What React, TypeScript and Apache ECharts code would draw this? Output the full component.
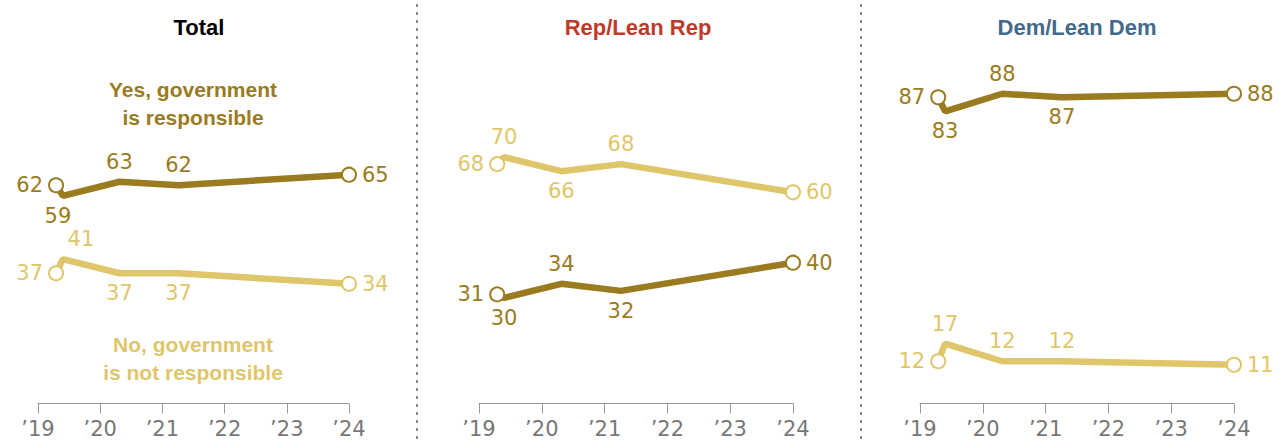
import React, { useEffect, useRef } from 'react';
import * as echarts from 'echarts';

const surveyDates = [2019.29, 2019.4, 2020.31, 2021.26, 2024.0];
const yearMin = 2019;
const yearMax = 2024;
const panelTitles = ['Total', 'Rep/Lean Rep', 'Dem/Lean Dem'];
const yesLabel = 'Yes, government\nis responsible';
const noLabel = 'No, government\nis not responsible';

const totalYes = [62, 59, 63, 62, 65];
const totalNo = [37, 41, 37, 37, 34];
const repYes = [31, 30, 34, 32, 40];
const repNo = [68, 70, 66, 68, 60];
const demYes = [87, 83, 88, 87, 88];
const demNo = [12, 17, 12, 12, 11];

const DARK = '#9A7B20';
const LIGHT = '#DFC66A';
const TITLE_COLORS = ['#000000', '#BF3A2B', '#436A8A'];
const NUM_FONT = "'DejaVu Sans', sans-serif";
const BOLD_FONT = "'Liberation Sans', Arial, sans-serif";

// label placement per point [position, offsetX]
type LP = [string, number];
const placements: LP[][] = [
  [['left', 0], ['bottom', -5], ['top', 0], ['top', 0], ['right', 0]], // total yes
  [['left', 0], ['top', 18], ['bottom', 0], ['bottom', 0], ['right', 0]], // total no
  [['left', 0], ['bottom', 0], ['top', 0], ['bottom', 0], ['right', 0]], // rep yes
  [['left', 0], ['top', 0], ['bottom', 0], ['top', 0], ['right', 0]], // rep no
  [['left', 0], ['bottom', 0], ['top', 0], ['bottom', 0], ['right', 0]], // dem yes
  [['left', 0], ['top', 0], ['top', 0], ['top', 0], ['right', 0]], // dem no
];

const panelLefts = [38, 479, 920];
const panelWidths = [311, 314, 314];
const GRID_TOP = 51.5;
const GRID_H = 352;

function makeData(values: number[], color: string, pl: LP[]) {
  return values.map((v, i) => {
    const end = i === 0 || i === values.length - 1;
    const [pos, ox] = pl[i];
    return {
      value: [surveyDates[i], v],
      symbol: 'circle',
      symbolSize: end ? 14 : 1,
      itemStyle: end
        ? { color: '#ffffff', borderColor: color, borderWidth: 2 }
        : { color: color, borderWidth: 0 },
      label: {
        show: true,
        position: pos,
        distance: end ? 5 : 9,
        offset: [ox, 0],
        color: color,
        fontSize: 21,
        fontFamily: NUM_FONT,
        formatter: String(v),
      },
    };
  });
}

export default function App() {
  const ref = useRef<HTMLDivElement>(null);
  useEffect(() => {
    if (!ref.current) return;
    const chart = echarts.init(ref.current, undefined, { renderer: 'svg' });
    const seriesSets = [
      [totalYes, totalNo],
      [repYes, repNo],
      [demYes, demNo],
    ];
    const grid = panelLefts.map((l, i) => ({
      left: l,
      width: panelWidths[i],
      top: GRID_TOP,
      height: GRID_H,
    }));
    const xAxis = panelLefts.map((_, i) => ({
      type: 'value',
      gridIndex: i,
      min: yearMin,
      max: yearMax,
      interval: 1,
      splitLine: { show: false },
      axisLine: { show: true, lineStyle: { color: '#999999', width: 1 } },
      axisTick: { show: true, length: 10, lineStyle: { color: '#999999' } },
      axisLabel: {
        margin: 15,
        color: '#777777',
        fontSize: 21,
        fontFamily: NUM_FONT,
        formatter: (v: number) => '\u2019' + String(v).slice(2),
      },
    }));
    const yAxis = panelLefts.map((_, i) => ({
      type: 'value',
      gridIndex: i,
      min: 0,
      max: 100,
      show: false,
    }));
    const series: any[] = [];
    seriesSets.forEach((pair, i) => {
      pair.forEach((vals, j) => {
        const color = j === 0 ? DARK : LIGHT;
        series.push({
          type: 'line',
          xAxisIndex: i,
          yAxisIndex: i,
          data: makeData(vals, color, placements[i * 2 + j]),
          lineStyle: { color, width: 6.5 },
          showSymbol: true,
          z: j === 0 ? 3 : 2,
          emphasis: { disabled: true },
        });
      });
    });
    const graphic: any[] = [];
    const centers = [199, 638, 1077];
    panelTitles.forEach((t, i) => {
      graphic.push({
        type: 'text',
        x: centers[i],
        y: 27,
        style: {
          text: t,
          fill: TITLE_COLORS[i],
          font: `bold 22px ${BOLD_FONT}`,
          textAlign: 'center',
          textVerticalAlign: 'middle',
        },
      });
    });
    graphic.push({
      type: 'text',
      x: 193,
      y: 103,
      style: {
        text: yesLabel,
        fill: DARK,
        font: `bold 21px ${BOLD_FONT}`,
        lineHeight: 28,
        textAlign: 'center',
        textVerticalAlign: 'middle',
      },
    });
    graphic.push({
      type: 'text',
      x: 193,
      y: 358,
      style: {
        text: noLabel,
        fill: LIGHT,
        font: `bold 21px ${BOLD_FONT}`,
        lineHeight: 28,
        textAlign: 'center',
        textVerticalAlign: 'middle',
      },
    });
    [417, 861].forEach((x) => {
      graphic.push({
        type: 'line',
        shape: { x1: x, y1: 4, x2: x, y2: 444 },
        style: { stroke: '#888888', lineWidth: 2, lineDash: [3, 5] },
      });
    });
    chart.setOption({
      animation: false,
      grid,
      xAxis,
      yAxis,
      series,
      graphic,
    });
    return () => chart.dispose();
  }, []);
  return (
    <div
      ref={ref}
      style={{ position: 'fixed', left: 0, top: 0, width: 1285, height: 444, background: '#fff' }}
    />
  );
}
